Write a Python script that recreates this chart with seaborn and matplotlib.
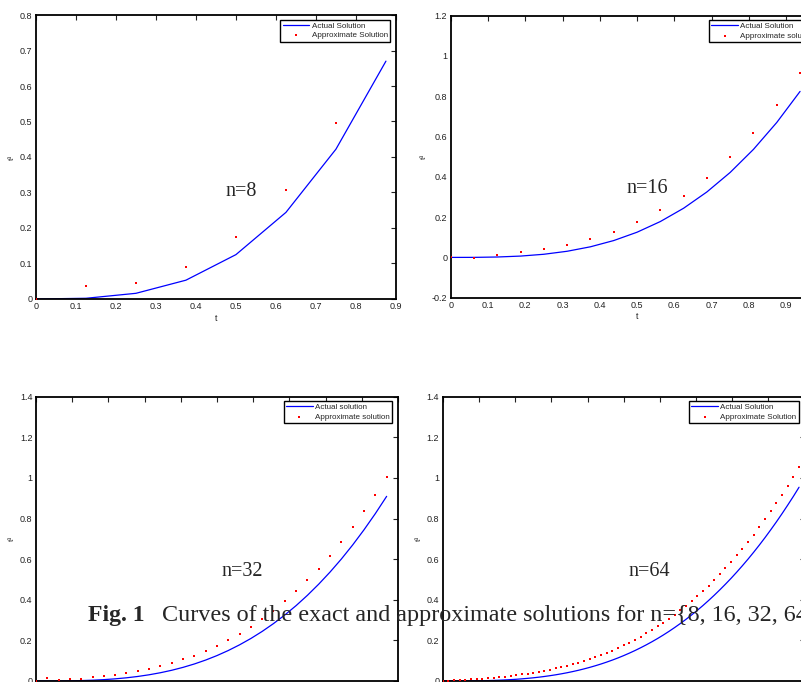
import numpy as np
import pandas as pd
import matplotlib
matplotlib.use("Agg")
import matplotlib.pyplot as plt
from matplotlib.ticker import FormatStrFormatter, MultipleLocator
import seaborn as sns

# grids of t for each n
t8 = [0, 0.125, 0.25, 0.375, 0.5, 0.625, 0.75, 0.875]
t16 = [0, 0.0625, 0.125, 0.1875, 0.25, 0.3125, 0.375, 0.4375, 0.5, 0.5625,
       0.625, 0.6875, 0.75, 0.8125, 0.875, 0.9375]
t32 = [0, 0.0312, 0.0625, 0.0938, 0.125, 0.1562, 0.1875, 0.2188, 0.25, 0.2812,
       0.3125, 0.3438, 0.375, 0.4062, 0.4375, 0.4688, 0.5, 0.5312, 0.5625, 0.5938,
       0.625, 0.6562, 0.6875, 0.7188, 0.75, 0.7812, 0.8125, 0.8438, 0.875, 0.9062,
       0.9375, 0.9688]
t64 = [0, 0.0156, 0.0312, 0.0469, 0.0625, 0.0781, 0.0938, 0.1094, 0.125, 0.1406,
       0.1562, 0.1719, 0.1875, 0.2031, 0.2188, 0.2344, 0.25, 0.2656, 0.2812, 0.2969,
       0.3125, 0.3281, 0.3438, 0.3594, 0.375, 0.3906, 0.4062, 0.4219, 0.4375, 0.4531,
       0.4688, 0.4844, 0.5, 0.5156, 0.5312, 0.5469, 0.5625, 0.5781, 0.5938, 0.6094,
       0.625, 0.6406, 0.6562, 0.6719, 0.6875, 0.7031, 0.7188, 0.7344, 0.75, 0.7656,
       0.7812, 0.7969, 0.8125, 0.8281, 0.8438, 0.8594, 0.875, 0.8906, 0.9062, 0.9219,
       0.9375, 0.9531, 0.9688, 0.9844]

# exact solution values
exact8 = [0, 0.002, 0.016, 0.053, 0.125, 0.244, 0.422, 0.670]
exact16 = [0, 0.0002, 0.002, 0.0066, 0.0156, 0.0305, 0.0527, 0.0837, 0.125, 0.178,
           0.2441, 0.325, 0.4219, 0.5364, 0.6699, 0.824]
exact32 = [0, 0.00003, 0.0002, 0.0008, 0.002, 0.0038, 0.0066, 0.0105, 0.0156, 0.0222,
           0.0305, 0.0406, 0.0527, 0.067, 0.0837, 0.103, 0.125, 0.1499, 0.178, 0.2093,
           0.2441, 0.2826, 0.325, 0.3713, 0.4219, 0.4768, 0.5364, 0.6007, 0.6699, 0.7443,
           0.824, 0.9091]
exact64 = [0, 0, 0.00003, 0.0001, 0.0002, 0.0005, 0.0008, 0.0013, 0.002, 0.0028,
           0.0038, 0.0051, 0.0066, 0.0084, 0.0105, 0.0129, 0.0156, 0.0187, 0.0222, 0.0262,
           0.0305, 0.0353, 0.0406, 0.0464, 0.0527, 0.0596, 0.067, 0.0751, 0.0837, 0.093,
           0.103, 0.1136, 0.125, 0.1371, 0.1499, 0.1636, 0.178, 0.1932, 0.2093, 0.2263,
           0.2441, 0.2629, 0.2826, 0.3033, 0.325, 0.3476, 0.3713, 0.3961, 0.4219, 0.4488,
           0.4768, 0.506, 0.5364, 0.5679, 0.6007, 0.6347, 0.6699, 0.7064, 0.7443, 0.7835,
           0.824, 0.8659, 0.9091, 0.9539]

# approximate solution values
approx8 = [0, 0.037, 0.044, 0.091, 0.175, 0.306, 0.496, 0.757]
approx16 = [0, -0.005, 0.013, 0.025, 0.040, 0.061, 0.091, 0.127, 0.175, 0.233,
            0.306, 0.393, 0.496, 0.618, 0.757, 0.917]
approx32 = [0, 0.016, 0.005, 0.008, 0.011, 0.018, 0.023, 0.031, 0.038, 0.048,
            0.061, 0.072, 0.087, 0.107, 0.125, 0.148, 0.174, 0.202, 0.231, 0.268,
            0.304, 0.346, 0.392, 0.441, 0.496, 0.553, 0.617, 0.684, 0.758, 0.835,
            0.917, 1.006]
approx64 = [0, 0.002, 0.003, 0.005, 0.006, 0.008, 0.010, 0.012, 0.014, 0.017,
            0.019, 0.022, 0.025, 0.029, 0.032, 0.036, 0.041, 0.045, 0.050, 0.056,
            0.062, 0.068, 0.075, 0.082, 0.090, 0.099, 0.108, 0.117, 0.127, 0.138,
            0.150, 0.162, 0.175, 0.189, 0.203, 0.218, 0.234, 0.251, 0.269, 0.287,
            0.307, 0.327, 0.348, 0.370, 0.394, 0.418, 0.443, 0.469, 0.497, 0.525,
            0.555, 0.586, 0.618, 0.651, 0.685, 0.721, 0.757, 0.796, 0.835, 0.876,
            0.918, 0.961, 1.006, 1.052]

sns.set_style("white")
plt.rcParams['font.family'] = ['Liberation Sans', 'DejaVu Sans']
plt.rcParams['axes.linewidth'] = 1.3

fig = plt.figure(figsize=(8.01, 6.82), dpi=100)

# (rect, t, exact, approx, labels, n, xlim, ylim, ystep, text pos, show xlabel)
paineis = [
    ([0.0449, 0.5616, 0.4494, 0.4164], t8, exact8, approx8,
     ("Actual Solution", "Approximate Solution"), "n=8", (0, 0.9), (0, 0.8), 0.1, (0.475, 0.29), True),
    ([0.5627, 0.5635, 0.4652, 0.4135], t16, exact16, approx16,
     ("Actual Solution", "Approximate solution"), "n=16", (0, 1.0), (-0.2, 1.2), 0.2, (0.472, 0.32), True),
    ([0.0449, 0.0015, 0.4519, 0.4169], t32, exact32, approx32,
     ("Actual solution", "Approximate solution"), "n=32", (0, 1.0), (0, 1.4), 0.2, (0.512, 0.517), False),
    ([0.5527, 0.0015, 0.4519, 0.4169], t64, exact64, approx64,
     ("Actual Solution", "Approximate Solution"), "n=64", (0, 1.0), (0, 1.4), 0.2, (0.512, 0.518), False),
]

for rect, t, ex, ap, labs, nome, xl, yl, ystep, pos, xlab in paineis:
    ax = fig.add_axes(rect)
    df = pd.DataFrame({'t': t, 'exact': ex, 'approx': ap})
    sns.lineplot(data=df, x='t', y='exact', color='#0000ff', linewidth=0.9,
                 label=labs[0], ax=ax)
    sns.scatterplot(data=df, x='t', y='approx', color='#ff0000', marker='s',
                    s=2.5, linewidth=0, label=labs[1], ax=ax, zorder=3)
    ax.set_xlim(*xl)
    ax.set_ylim(*yl)
    ax.xaxis.set_major_locator(MultipleLocator(0.1))
    ax.yaxis.set_major_locator(MultipleLocator(ystep))
    ax.xaxis.set_major_formatter(FormatStrFormatter('%g'))
    ax.yaxis.set_major_formatter(FormatStrFormatter('%g'))
    ax.tick_params(direction='in', length=3.5, width=0.8, top=True, right=True,
                   labelsize=6.5, pad=2.5, colors='#222222')
    for s in ax.spines.values():
        s.set_color('black')
        s.set_visible(True)
    ax.set_ylabel('t³', fontsize=6, labelpad=3)
    if xlab:
        ax.set_xlabel('t', fontsize=6.5, labelpad=1.5)
    else:
        ax.set_xlabel('')
    ax.text(pos[0], pos[1], nome, family='Liberation Serif', fontsize=14.5,
            ha='left', va='baseline')
    leg = ax.legend(loc='upper right', bbox_to_anchor=(0.984, 0.984), borderaxespad=0,
                    fontsize=5.8, frameon=True, fancybox=False, framealpha=1,
                    edgecolor='black', borderpad=0.3, labelspacing=0.25,
                    handlelength=3.3, handletextpad=0.3, markerscale=1.3)
    leg.get_frame().set_linewidth(1.0)

fig.text(88 / 801, 1 - 621 / 682, 'Fig. 1', family='Liberation Serif', weight='bold',
         fontsize=17, ha='left', va='baseline')
fig.text(161.7 / 801, 1 - 621 / 682,
         'Curves of the exact and approximate solutions for n={8, 16, 32, 64}',
         family='Liberation Serif', fontsize=17.4, ha='left', va='baseline')

fig.savefig('out.png', dpi=100)
